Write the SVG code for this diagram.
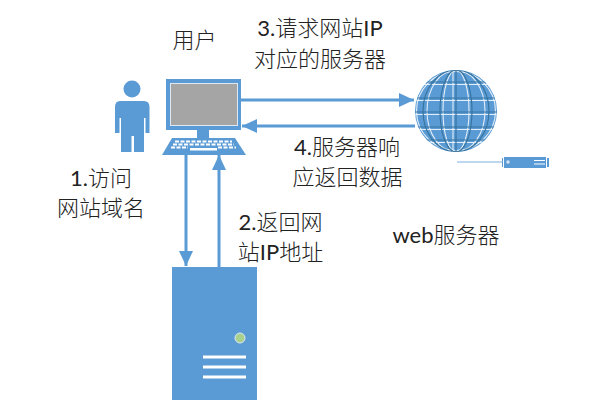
<svg xmlns="http://www.w3.org/2000/svg" width="600" height="400" viewBox="0 0 600 400">
  <style>
    .b { fill: #5b9bd5; }
    .link { stroke: #5b9bd5; stroke-width: 3; fill: none; marker-end: url(#tip); }
    .w { stroke: #fff; fill: none; }
    .grid { fill: none; stroke: #37749f; stroke-width: 1.2; }
    .grid2 { fill: none; stroke: #e3eef8; stroke-width: 1.1; }
    text { font-family: "Lato", "Noto Sans CJK SC", sans-serif; font-size: 22px; font-weight: 300; fill: #222; text-anchor: middle; }
    .lat { font-weight: 400; }
  </style>
  <defs>
    <marker id="tip" markerUnits="userSpaceOnUse" markerWidth="16" markerHeight="16" refX="15" refY="8" orient="auto">
      <path d="M0 1L15 8L0 15Z" fill="#5b9bd5"/>
    </marker>
    <clipPath id="ball"><circle cx="456" cy="111" r="41"/></clipPath>
  </defs>
  <rect width="600" height="400" fill="#fff"/>

  <g id="connectors">
    <path class="link" d="M241 100H414"/>
    <path class="link" d="M415 126H242"/>
    <path class="link" d="M186 154V266"/>
    <path class="link" d="M219 267V155"/>
  </g>

  <g id="person">
    <circle class="b" cx="132" cy="89" r="8.500"/>
    <path class="b" d="M120 101H144Q149.500 101 149.500 107V133H145.500V118H144V152H134V136H131.500V152H121V118H119.500V133H115V107Q115 101 120 101Z"/>
  </g>

  <g id="computer">
    <rect class="b" x="166" y="79" width="75" height="51"/>
    <rect x="170.500" y="83.500" width="67" height="42" fill="#a5a5a5" stroke="#dfe9f3"/>
    <rect class="b" x="197" y="130" width="12" height="8"/>
    <path class="b" d="M172 138H235L246 155H162Z"/>
    <path d="M175 141.500H232M173 144.500H234" stroke="#fff" stroke-width="1.800" stroke-dasharray="4 1.500" fill="none"/>
    <path d="M171 147.500H188M218 147.500H236" stroke="#fff" stroke-width="1.800" stroke-dasharray="4 1.500" fill="none"/>
    <rect x="190" y="148" width="27" height="2.500" fill="#fff"/>
  </g>

  <g id="web-server">
    <circle class="b" cx="456" cy="111" r="41"/>
    <g clip-path="url(#ball)">
      <path class="grid2" d="M414 114.500H498M414 100.500H498M414 129.500H498M414 142.500H498M414 84.500H498"/>
      <path class="grid2" d="M453 70V152"/>
      <ellipse class="grid2" cx="456" cy="111" rx="13" ry="41"/>
      <ellipse class="grid2" cx="456" cy="111" rx="29" ry="41"/>
      <circle class="grid2" cx="456" cy="111" r="39.500"/>
      <path class="grid" d="M414 112H498M414 98H498M414 127H498M414 140H498M414 82H498"/>
      <path class="grid" d="M456 70V152"/>
      <ellipse class="grid" cx="456" cy="111" rx="16" ry="41"/>
      <ellipse class="grid" cx="456" cy="111" rx="33" ry="41"/>
    </g>
    <path d="M457 162H502" stroke="#7fb2e0" stroke-width="1.200" fill="none"/>
    <rect class="b" x="504" y="157" width="42" height="11"/>
    <rect class="b" x="547" y="158" width="2" height="9"/>
    <rect class="b" x="502" y="158" width="1" height="9"/>
    <circle cx="508" cy="162" r="1.800" fill="#cfe0f2"/>
    <path class="w" d="M534 160.500H545M534 164H545" stroke-width="1"/>
  </g>

  <g id="dns-server">
    <rect class="b" x="172" y="267" width="85" height="133"/>
    <circle cx="240" cy="338" r="5" fill="#a9d18e" stroke="#dbe8f5" stroke-width="1"/>
    <path class="w" d="M203 357H246M203 367H246M203 377H246" stroke-width="3"/>
  </g>

  <g id="labels">
    <text x="194.500" y="48">用户</text>
    <text x="320" y="36"><tspan class="lat">3.</tspan>请求网站<tspan class="lat">IP</tspan></text>
    <text x="320" y="67">对应的服务器</text>
    <text x="101" y="186"><tspan class="lat">1.</tspan>访问</text>
    <text x="101" y="216">网站域名</text>
    <text x="347" y="155"><tspan class="lat">4.</tspan>服务器响</text>
    <text x="347.500" y="185">应返回数据</text>
    <text x="280.500" y="230"><tspan class="lat">2.</tspan>返回网</text>
    <text x="280.500" y="260">站<tspan class="lat">IP</tspan>地址</text>
    <text x="446" y="243"><tspan class="lat">web</tspan>服务器</text>
  </g>
</svg>
